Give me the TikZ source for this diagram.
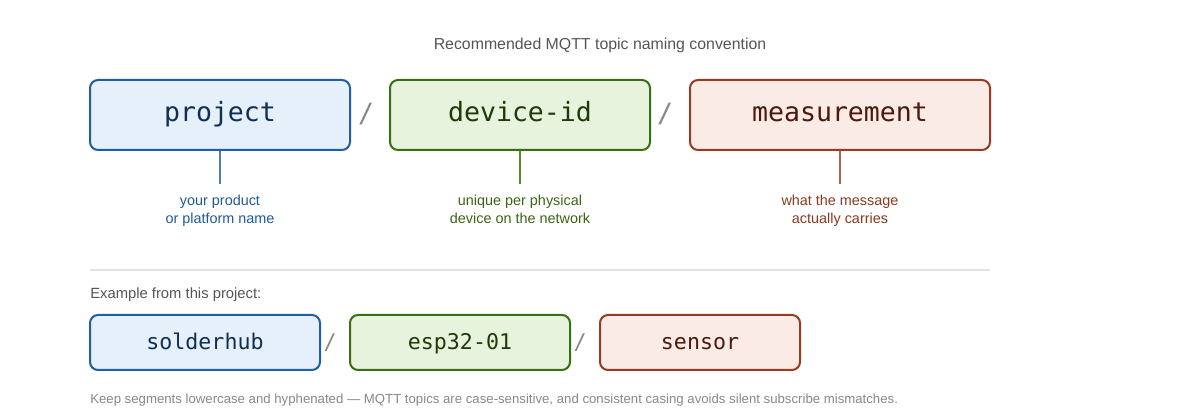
\documentclass[tikz,border=0pt]{standalone}
\usepackage{fontspec}
\setmainfont{Liberation Sans}
\newfontfamily\monof{DejaVu Sans Mono}
\usetikzlibrary{positioning}
\definecolor{bstroke}{HTML}{1F5FA5}
\definecolor{bfill}{HTML}{E6F0FA}
\definecolor{btext}{HTML}{0F2F55}
\definecolor{blabel}{HTML}{1F5A96}
\definecolor{bline}{HTML}{4A7FB5}
\definecolor{gstroke}{HTML}{3B6E12}
\definecolor{gfill}{HTML}{E8F3DE}
\definecolor{gtext}{HTML}{1F3A08}
\definecolor{glabel}{HTML}{3A6510}
\definecolor{gline}{HTML}{5A8A30}
\definecolor{rstroke}{HTML}{993B20}
\definecolor{rfill}{HTML}{FBEBE6}
\definecolor{rtext}{HTML}{4A1A0C}
\definecolor{rlabel}{HTML}{8A3A1E}
\definecolor{rline}{HTML}{B06050}
\definecolor{titlegray}{HTML}{555555}
\definecolor{slashgray}{HTML}{888888}
\definecolor{footgray}{HTML}{888888}
\definecolor{rulegray}{HTML}{E2E2E2}
\tikzset{
  seg/.style={draw, line width=1.5pt, rounded corners=6pt, inner sep=0pt},
  bigseg/.style={seg, minimum height=52.5pt, text height=14pt, text depth=3.5pt, font=\monof\fontsize{19.9}{22}\selectfont},
  smallseg/.style={seg, minimum height=41.25pt, text height=12pt, text depth=0.8pt, font=\monof\fontsize{16.2}{18}\selectfont},
  segblue/.style={bstroke, fill=bfill, text=btext},
  seggreen/.style={gstroke, fill=gfill, text=gtext},
  segred/.style={rstroke, fill=rfill, text=rtext},
  slash/.style={text=slashgray, font=\monof\fontsize{19.9}{22}\selectfont},
  smallslash/.style={text=slashgray, font=\monof\fontsize{16.2}{18}\selectfont},
  desc/.style={align=center, font=\fontsize{10.8}{13.5}\selectfont},
  tick/.style={line width=1.5pt},
}
\begin{document}
\begin{tikzpicture}[x=0.75pt,y=-0.75pt]
\useasboundingbox (0,0) rectangle (1200,420);
\node[text=titlegray, font=\fontsize{11.9}{14}\selectfont] (title) at (600,45) {Recommended MQTT topic naming convention};

\node[bigseg, segblue, minimum width=195pt] (project) at (220,115) {project};
\node[bigseg, seggreen, minimum width=195pt] (device) at (520,115) {device-id};
\node[bigseg, segred, minimum width=225pt] (meas) at (840,115) {measurement};
\node[slash] (s1) at (366,114) {/};
\node[slash] (s2) at (665,114) {/};

\coordinate (p1) at (220,184);
\coordinate (p2) at (520,184);
\coordinate (p3) at (840,184);
\draw[tick, bline] (project.south) -- (p1);
\draw[tick, gline] (device.south) -- (p2);
\draw[tick, rline] (meas.south) -- (p3);
\node[desc, text=blabel] (d1) at (220,211) {\strut your product\\\strut or platform name};
\node[desc, text=glabel] (d2) at (520,211) {\strut unique per physical\\\strut device on the network};
\node[desc, text=rlabel] (d3) at (840,211) {\strut what the message\\\strut actually carries};

\coordinate (r1) at (90,270);
\coordinate (r2) at (990,270);
\draw[rulegray, line width=1pt] (r1) -- (r2);

\node[anchor=west, text=titlegray, font=\fontsize{11.1}{13}\selectfont, inner sep=0pt] (ex) at (90,295) {Example from this project:};

\node[smallseg, segblue, minimum width=172.5pt] (e1) at (205,342.5) {solderhub};
\node[smallseg, seggreen, minimum width=165pt] (e2) at (460,342.5) {esp32-01};
\node[smallseg, segred, minimum width=150pt] (e3) at (700,342.5) {sensor};
\node[smallslash] (s3) at (330,343) {/};
\node[smallslash] (s4) at (580,343) {/};

\node[anchor=west, text=footgray, font=\fontsize{9.9}{11}\selectfont, inner sep=0pt] (foot) at (90,400) {Keep segments lowercase and hyphenated — MQTT topics are case-sensitive, and consistent casing avoids silent subscribe mismatches.};
\end{tikzpicture}
\end{document}
